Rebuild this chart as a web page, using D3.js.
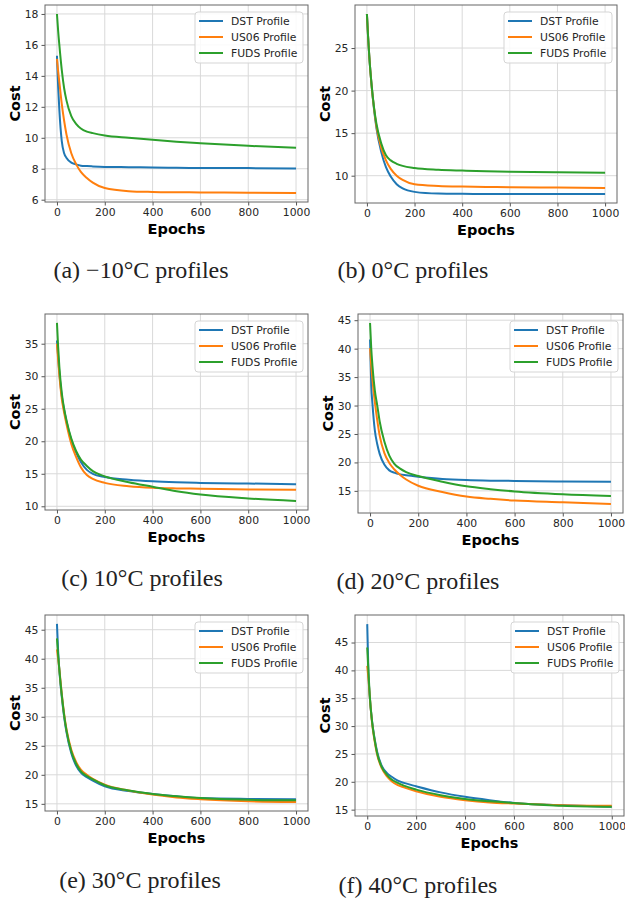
<!DOCTYPE html>
<html>
<head>
<meta charset="utf-8">
<script src="https://cdn.jsdelivr.net/npm/d3@7"></script>
<style>
  body { margin: 0; background: #fff; }
  svg { display: block; }
</style>
</head>
<body>
<div id="app"></div>
<script>
// epochs sampled off the curves
const epochs = [0, 5, 10, 20, 30, 40, 60, 80, 100, 125, 150, 200, 300, 400, 500, 600, 800, 1000];
const seriesNames = ['DST Profile', 'US06 Profile', 'FUDS Profile'];
const xTicks = [0, 200, 400, 600, 800, 1000];

// cost per profile, one panel per temperature
const costM10 = [
  [15.3, 13.3, 11.8, 9.8, 9.0, 8.7, 8.4, 8.28, 8.2, 8.17, 8.15, 8.12, 8.1, 8.08, 8.06, 8.05, 8.04, 8.02],
  [15.1, 14.3, 13.6, 12.2, 11.1, 10.2, 9.0, 8.3, 7.8, 7.4, 7.1, 6.75, 6.55, 6.5, 6.48, 6.47, 6.45, 6.43],
  [18.0, 16.9, 16.0, 14.4, 13.2, 12.4, 11.4, 10.9, 10.6, 10.4, 10.3, 10.15, 10.0, 9.87, 9.75, 9.65, 9.48, 9.35]
];
const cost0 = [
  [29, 26.3, 24, 20.5, 17.8, 15.6, 12.8, 11.0, 9.9, 9.0, 8.5, 8.1, 7.9, 7.87, 7.86, 7.85, 7.85, 7.85],
  [29, 26.3, 24, 20.5, 17.9, 15.8, 13.3, 11.8, 10.8, 10.0, 9.5, 9.0, 8.8, 8.72, 8.68, 8.65, 8.6, 8.55],
  [29, 26.3, 24, 20.6, 18.0, 16.1, 13.8, 12.4, 11.8, 11.4, 11.15, 10.9, 10.7, 10.6, 10.52, 10.47, 10.4, 10.35]
];
const cost10 = [
  [35.5, 33, 30.5, 27, 24.8, 23, 20.2, 18.3, 16.8, 15.6, 15.0, 14.5, 14.1, 13.85, 13.7, 13.6, 13.5, 13.4],
  [35.0, 32.5, 30.2, 26.6, 24.4, 22.6, 19.6, 17.6, 16.0, 14.8, 14.2, 13.6, 13.1, 12.85, 12.75, 12.7, 12.6, 12.55],
  [38.2, 34.5, 31.5, 27.5, 25.0, 23.2, 20.4, 18.5, 17.2, 16.2, 15.4, 14.6, 13.7, 13.0, 12.3, 11.8, 11.2, 10.8]
];
const cost20 = [
  [41.6, 33.5, 30.3, 25.6, 23.2, 21.5, 19.6, 18.6, 18.2, 17.9, 17.75, 17.5, 17.1, 16.9, 16.8, 16.75, 16.65, 16.6],
  [40.1, 37, 34.5, 30.6, 27.4, 24.7, 21.6, 19.9, 18.8, 17.8, 17.0, 15.9, 14.8, 14.0, 13.6, 13.3, 13.0, 12.7],
  [44.5, 40, 37, 32.6, 30.0, 27.2, 23.6, 21.2, 19.8, 18.9, 18.3, 17.6, 16.6, 15.8, 15.3, 14.9, 14.4, 14.1]
];
const cost30 = [
  [46, 41.3, 38, 33.5, 30, 27.3, 23.7, 21.6, 20.4, 19.6, 19.0, 18.0, 17.2, 16.7, 16.3, 16.0, 15.85, 15.8],
  [41.6, 40, 38.2, 34, 30.5, 27.8, 24.3, 22.2, 20.9, 20.0, 19.3, 18.3, 17.3, 16.6, 16.1, 15.8, 15.45, 15.3],
  [43.5, 40.6, 38.1, 33.8, 30.3, 27.6, 24.0, 21.9, 20.6, 19.8, 19.2, 18.2, 17.3, 16.7, 16.3, 16.0, 15.7, 15.6]
];
const cost40 = [
  [48.3, 39.5, 35.5, 30.8, 27.8, 25.5, 22.8, 21.6, 20.9, 20.2, 19.8, 19.2, 18.1, 17.3, 16.7, 16.2, 15.8, 15.5],
  [40.8, 38.5, 35.5, 30.5, 27.4, 25.0, 22.4, 21.0, 20.1, 19.4, 19.0, 18.3, 17.3, 16.7, 16.3, 16.1, 15.8, 15.7],
  [44.1, 39.8, 35.7, 30.7, 27.6, 25.2, 22.6, 21.3, 20.4, 19.8, 19.3, 18.6, 17.6, 16.9, 16.5, 16.2, 15.7, 15.5]
];

const captions = ['(a) −10°C profiles', '(b) 0°C profiles', '(c) 10°C profiles',
  '(d) 20°C profiles', '(e) 30°C profiles', '(f) 40°C profiles'];
const yTicks = [
  [6, 8, 10, 12, 14, 16, 18],
  [10, 15, 20, 25],
  [10, 15, 20, 25, 30, 35],
  [15, 20, 25, 30, 35, 40, 45],
  [15, 20, 25, 30, 35, 40, 45],
  [15, 20, 25, 30, 35, 40, 45]
];
const allCosts = [costM10, cost0, cost10, cost20, cost30, cost40];

// axes boxes [left, top, right, bottom] and caption centre
const layout = [
  { box: [45, 5, 308, 202], cap: [141, 278] },
  { box: [355, 5, 617, 203], cap: [413, 278] },
  { box: [45, 314, 308, 510], cap: [142, 586] },
  { box: [358, 314, 623, 513], cap: [418, 589] },
  { box: [45, 615, 308, 811], cap: [140, 888] },
  { box: [355, 615, 624, 816], cap: [418, 893] }
];

const color = d3.scaleOrdinal(seriesNames, ['#1f77b4', '#ff7f0e', '#2ca02c']);

const svg = d3.select('#app').append('svg')
  .attr('width', 625)
  .attr('height', 899)
  .attr('style', 'font-family: "DejaVu Sans", sans-serif;');

allCosts.forEach((costs, p) => {
  const [l, t, r, b] = layout[p].box;

  // matplotlib style 5% margins
  const lo = d3.min(costs, s => d3.min(s)), hi = d3.max(costs, s => d3.max(s));
  const pad = (hi - lo) * 0.05;
  const x = d3.scaleLinear().domain([-50, 1050]).range([l, r]);
  const y = d3.scaleLinear().domain([lo - pad, hi + pad]).range([b, t]);

  const g = svg.append('g');

  // grid
  g.append('g').selectAll('line').data(xTicks).join('line')
    .attr('x1', d => x(d)).attr('x2', d => x(d)).attr('y1', t).attr('y2', b)
    .attr('stroke', '#d9d9d9').attr('stroke-width', 1);
  g.append('g').selectAll('line').data(yTicks[p]).join('line')
    .attr('y1', d => y(d)).attr('y2', d => y(d)).attr('x1', l).attr('x2', r)
    .attr('stroke', '#d9d9d9').attr('stroke-width', 1);

  // lines
  const line = d3.line()
    .x((d, i) => x(epochs[i]))
    .y(d => y(d))
    .curve(d3.curveMonotoneX);

  g.append('g').selectAll('path').data(costs).join('path')
    .attr('d', d => line(d))
    .attr('fill', 'none')
    .attr('stroke', (d, i) => color(seriesNames[i]))
    .attr('stroke-width', 2);

  // axes
  const xAxis = g.append('g')
    .attr('transform', `translate(0,${b})`)
    .call(d3.axisBottom(x).tickValues(xTicks).tickFormat(d3.format('d')).tickSize(3.5).tickPadding(3));
  const yAxis = g.append('g')
    .attr('transform', `translate(${l},0)`)
    .call(d3.axisLeft(y).tickValues(yTicks[p]).tickFormat(d3.format('d')).tickSize(3.5).tickPadding(3));
  [xAxis, yAxis].forEach(a => {
    a.select('.domain').remove();
    a.selectAll('line').attr('stroke', '#555');
    a.selectAll('text').attr('font-size', 10.8).attr('fill', '#262626')
      .attr('font-family', '"DejaVu Sans", sans-serif');
  });

  g.append('rect')
    .attr('x', l).attr('y', t).attr('width', r - l).attr('height', b - t)
    .attr('fill', 'none').attr('stroke', '#666').attr('stroke-width', 1);

  // axis titles
  g.append('text')
    .attr('x', (l + r) / 2).attr('y', b + 32)
    .attr('text-anchor', 'middle')
    .attr('font-size', 14.5).attr('font-weight', 'bold')
    .text('Epochs');
  g.append('text')
    .attr('transform', `translate(${l - 25},${(t + b) / 2}) rotate(-90)`)
    .attr('text-anchor', 'middle')
    .attr('font-size', 14.5).attr('font-weight', 'bold')
    .text('Cost');

  // legend
  const lg = g.append('g').attr('transform', `translate(${r - 113},${t + 7})`);
  lg.append('rect')
    .attr('width', 108).attr('height', 51).attr('rx', 3)
    .attr('fill', 'white').attr('fill-opacity', 0.85)
    .attr('stroke', '#d5d5d5');
  const item = lg.selectAll('g.item').data(seriesNames).join('g')
    .attr('class', 'item')
    .attr('transform', (d, i) => `translate(0,${9 + i * 16})`);
  item.append('line')
    .attr('x1', 4).attr('x2', 28)
    .attr('stroke', d => color(d)).attr('stroke-width', 2);
  item.append('text')
    .attr('x', 36).attr('y', 4)
    .attr('font-size', 10.8).attr('fill', '#262626')
    .text(d => d);

  // caption
  svg.append('text')
    .attr('x', layout[p].cap[0]).attr('y', layout[p].cap[1])
    .attr('text-anchor', 'middle')
    .attr('font-family', '"Liberation Serif", serif')
    .attr('font-size', 24)
    .attr('fill', '#222')
    .text(captions[p]);
});
</script>
</body>
</html>
